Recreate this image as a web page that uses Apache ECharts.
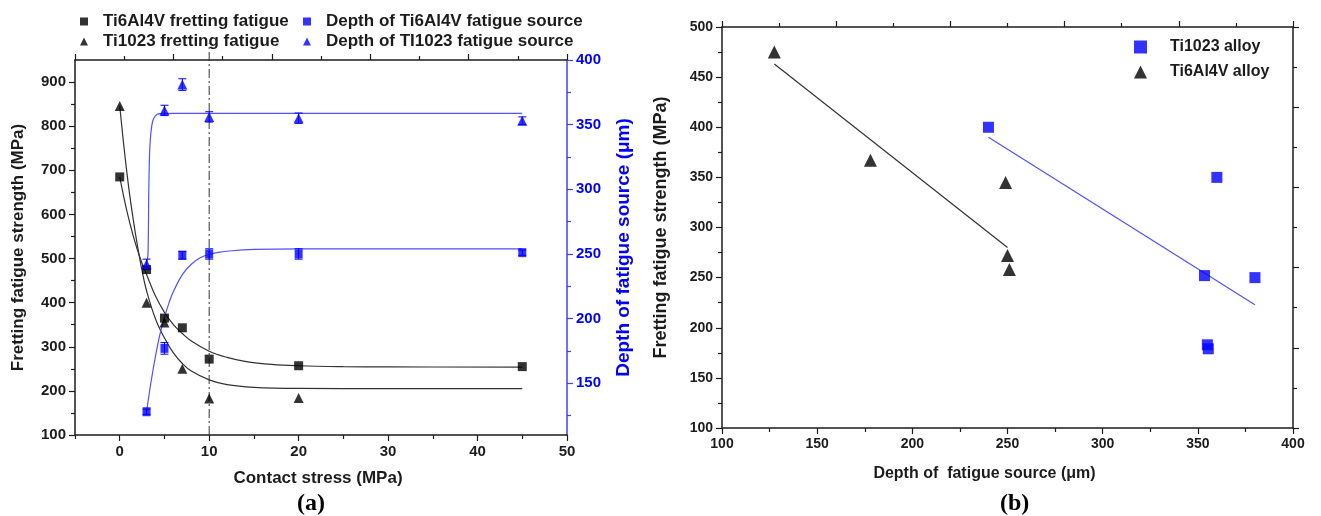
<!DOCTYPE html>
<html>
<head>
<meta charset="utf-8">
<script src="https://cdn.jsdelivr.net/npm/echarts@6/dist/echarts.min.js"></script>
<style>html,body{margin:0;background:#fff}#chart{width:1321px;height:516px}</style>
</head>
<body>
<div id="chart"></div>
<script>
// ---- (a) contact stress vs strength / depth of fatigue source
const stressTi64 = [0, 3, 5, 7, 10, 20, 45];
const strengthTi64 = [685, 475, 365, 343, 272, 257, 255];
const stressTi1023 = [0, 3, 5, 7, 10, 20];
const strengthTi1023 = [846, 400, 355, 250, 183, 184];
const stressDepth = [3, 5, 7, 10, 20, 45];
const depthTi64 = [128, 177, 249, 250, 250, 251];
const depthTi64Err = [2, 4.5, 3, 4, 4, 2];
const depthTi1023 = [242, 361, 381, 356, 355, 353];
const depthTi1023Err = [4, 4, 4.5, 4, 4, 3];

// fitted curves
const fitTi64X = [0, 0.75, 1.5, 2.25, 3, 4, 5, 6, 7, 8, 10, 12, 14, 17, 20, 25, 30, 45];
const fitTi64Y = [685, 612, 552, 503, 464, 415, 378, 350, 330, 313, 290, 276, 267, 260, 257, 255, 254.3, 254];
const fitTi1023X = [0, 0.5, 1, 1.5, 2, 2.5, 3, 4, 5, 6, 7, 8, 10, 12, 15, 20, 30, 45];
const fitTi1023Y = [846, 748, 662, 590, 527, 472, 427, 363, 320, 286, 262, 245, 225, 214, 208, 205.5, 205, 205];
const fitDepthTi64X = [3, 3.5, 4, 4.5, 5, 5.5, 6, 7, 8, 9, 10, 11, 12.5, 15, 20, 45];
const fitDepthTi64Y = [128, 151, 171, 188, 201, 212, 221, 234, 242, 247, 249.8, 251.3, 252.5, 253.5, 254, 254];
const fitDepthTi1023X = [3, 3.16, 3.25, 3.35, 3.5, 3.7, 4, 4.5, 6, 45];
const fitDepthTi1023Y = [242, 250, 300, 330, 345, 353, 357, 358.5, 358.7, 358.7];
const markStress = 10;

const xTicksA = [0, 10, 20, 30, 40, 50];
const xMinorA = [-5, 5, 15, 25, 35, 45];
const leftTicksA = [100, 200, 300, 400, 500, 600, 700, 800, 900];
const leftMinorA = [150, 250, 350, 450, 550, 650, 750, 850];
const rightTicksA = [150, 200, 250, 300, 350, 400];
const rightMinorA = [125, 175, 225, 275, 325, 375];

// ---- (b) depth of fatigue source vs strength
const depthTi1023B = [240, 360, 353.5, 380, 355, 355.5];
const strengthTi1023B = [400, 350, 252, 250, 183, 179];
const depthTi64B = [127.5, 178, 249, 250, 251];
const strengthTi64B = [475, 367, 345, 272, 258];
const fitTi64BX = [127.5, 250];
const fitTi64BY = [463, 280];
const fitTi1023BX = [240, 380];
const fitTi1023BY = [390, 223];

const FONT = 'Liberation Sans';
const BLUE = '#0000ff';
const BLUE_LINE = '#5050ff';
const DARK = '#1c1c1c';

const zip = (xs, ys) => xs.map((x, i) => [x, ys[i]]);

const lbl = (size, color) => ({
  fontFamily: FONT, fontWeight: 'bold', fontSize: size, color: color
});

function errorBars(xs, ys, errs, color) {
  return {
    type: 'custom', xAxisIndex: 0, yAxisIndex: 2, z: 3, silent: true,
    data: xs.map((x, i) => [x, ys[i] - errs[i], ys[i] + errs[i]]),
    renderItem: (params, api) => {
      const lo = api.coord([api.value(0), api.value(1)]);
      const hi = api.coord([api.value(0), api.value(2)]);
      const w = 4;
      const st = { stroke: color, lineWidth: 1 };
      return {
        type: 'group', children: [
          { type: 'line', shape: { x1: lo[0], y1: lo[1], x2: hi[0], y2: hi[1] }, style: st },
          { type: 'line', shape: { x1: lo[0] - w, y1: lo[1], x2: lo[0] + w, y2: lo[1] }, style: st },
          { type: 'line', shape: { x1: hi[0] - w, y1: hi[1], x2: hi[0] + w, y2: hi[1] }, style: st }
        ]
      };
    }
  };
}

function fitLine(xs, ys, xi, yi, color, smooth) {
  return {
    type: 'line', xAxisIndex: xi, yAxisIndex: yi, data: zip(xs, ys),
    showSymbol: false, smooth: smooth, silent: true,
    lineStyle: { color: color, width: 1.2 }, z: 1
  };
}

const axisLine = (color) => ({ show: true, onZero: false, lineStyle: { color: color, width: 1.5 } });
const hidden = { show: false };

const chart = echarts.init(document.getElementById('chart'));
chart.setOption({
  backgroundColor: '#fff',
  animation: false,
  title: [
    { text: '(a)', left: 292, top: 487, textStyle: { fontFamily: 'Liberation Serif', fontWeight: 'bold', fontSize: 24, color: '#000' } },
    { text: '(b)', left: 995, top: 487, textStyle: { fontFamily: 'Liberation Serif', fontWeight: 'bold', fontSize: 24, color: '#000' } }
  ],
  legend: [
    {
      orient: 'vertical', left: 80, top: 13, padding: 0, itemGap: 3,
      itemWidth: 8, itemHeight: 8, textStyle: { ...lbl(17, DARK), padding: [0, 0, 0, 10] },
      data: ['Ti6Al4V fretting fatigue', 'Ti1023 fretting fatigue']
    },
    {
      orient: 'vertical', left: 303, top: 13, padding: 0, itemGap: 3,
      itemWidth: 8, itemHeight: 8, textStyle: { ...lbl(17, DARK), padding: [0, 0, 0, 10] },
      data: ['Depth of Ti6Al4V fatigue source', 'Depth of TI1023 fatigue source']
    },
    {
      orient: 'vertical', left: 1134, top: 39, padding: 0, itemGap: 9,
      itemWidth: 13, itemHeight: 13, textStyle: { ...lbl(16, DARK), padding: [0, 0, 0, 18] },
      data: ['Ti1023 alloy', 'Ti6Al4V alloy']
    }
  ],
  grid: [
    { left: 75, top: 60, width: 492, height: 375 },
    { left: 722, top: 27, width: 571, height: 401 }
  ],
  xAxis: [
    { // 0: (a) bottom
      type: 'value', gridIndex: 0, position: 'bottom', min: -5, max: 50,
      name: 'Contact stress (MPa)', nameLocation: 'middle', nameGap: 35,
      nameTextStyle: { ...lbl(17, DARK), padding: [0, 6, 0, 0] },
      axisLine: axisLine(DARK),
      axisTick: { customValues: xTicksA, length: 6, lineStyle: { color: DARK, width: 1.2 } },
      axisLabel: { customValues: xTicksA, margin: 9, ...lbl(15, DARK) },
      splitLine: hidden
    },
    { // 1: (a) bottom minor ticks
      type: 'value', gridIndex: 0, position: 'bottom', min: -5, max: 50,
      axisLine: { show: false, onZero: false },
      axisTick: { customValues: xMinorA, length: 4, lineStyle: { color: DARK, width: 1.2 } },
      axisLabel: hidden, splitLine: hidden
    },
    { // 2: (a) top mirror
      type: 'value', gridIndex: 0, position: 'top', min: 0, max: 50, interval: 10,
      axisLine: axisLine(DARK),
      axisTick: { length: 6, lineStyle: { color: DARK, width: 1.2 } },
      minorTick: { show: true, splitNumber: 2, length: 4, lineStyle: { color: DARK, width: 1.2 } },
      axisLabel: hidden, splitLine: hidden
    },
    { // 3: (b) bottom
      type: 'value', gridIndex: 1, position: 'bottom', min: 100, max: 400, interval: 50,
      name: 'Depth of  fatigue source (μm)', nameLocation: 'middle', nameGap: 38,
      nameTextStyle: { ...lbl(16, DARK), padding: [0, 46, 0, 0] },
      axisLine: axisLine(DARK),
      axisTick: { length: 6, lineStyle: { color: DARK, width: 1.2 } },
      minorTick: { show: true, splitNumber: 2, length: 4, lineStyle: { color: DARK, width: 1.2 } },
      axisLabel: { margin: 9, ...lbl(14, DARK) },
      splitLine: hidden
    },
    { // 4: (b) top mirror
      type: 'value', gridIndex: 1, position: 'top', min: 0, max: 10, interval: 2,
      axisLine: axisLine(DARK),
      axisTick: { length: 6, lineStyle: { color: DARK, width: 1.2 } },
      minorTick: { show: true, splitNumber: 2, length: 4, lineStyle: { color: DARK, width: 1.2 } },
      axisLabel: hidden, splitLine: hidden
    }
  ],
  yAxis: [
    { // 0: (a) left
      type: 'value', gridIndex: 0, position: 'left', min: 100, max: 950,
      name: 'Fretting fatigue strength (MPa)', nameLocation: 'middle', nameGap: 48, nameTextStyle: lbl(17, DARK),
      axisLine: axisLine(DARK),
      axisTick: { customValues: leftTicksA, length: 6, lineStyle: { color: DARK, width: 1.2 } },
      axisLabel: { customValues: leftTicksA, margin: 9, ...lbl(15, DARK) },
      splitLine: hidden
    },
    { // 1: (a) left minor ticks
      type: 'value', gridIndex: 0, position: 'left', min: 100, max: 950,
      axisLine: { show: false, onZero: false },
      axisTick: { customValues: leftMinorA, length: 4, lineStyle: { color: DARK, width: 1.2 } },
      axisLabel: hidden, splitLine: hidden
    },
    { // 2: (a) right, depth
      type: 'value', gridIndex: 0, position: 'right', min: 110, max: 400,
      name: 'Depth of fatigue source (μm)', nameLocation: 'middle', nameGap: 47, nameTextStyle: lbl(19, BLUE),
      axisLine: axisLine('#4040ff'),
      axisTick: { customValues: rightTicksA, length: 6, lineStyle: { color: '#4040ff', width: 1.2 } },
      axisLabel: { customValues: rightTicksA, margin: 9, ...lbl(15, BLUE) },
      splitLine: hidden
    },
    { // 3: (a) right minor ticks
      type: 'value', gridIndex: 0, position: 'right', min: 110, max: 400,
      axisLine: { show: false, onZero: false },
      axisTick: { customValues: rightMinorA, length: 4, lineStyle: { color: '#4040ff', width: 1.2 } },
      axisLabel: hidden, splitLine: hidden
    },
    { // 4: (b) left
      type: 'value', gridIndex: 1, position: 'left', min: 100, max: 500, interval: 50,
      name: 'Fretting fatigue strength (MPa)', nameLocation: 'middle', nameGap: 52, nameTextStyle: lbl(18, DARK),
      axisLine: axisLine(DARK),
      axisTick: { length: 6, lineStyle: { color: DARK, width: 1.2 } },
      minorTick: { show: true, splitNumber: 2, length: 4, lineStyle: { color: DARK, width: 1.2 } },
      axisLabel: { margin: 9, ...lbl(14, DARK) },
      splitLine: hidden
    },
    { // 5: (b) right mirror
      type: 'value', gridIndex: 1, position: 'right', min: 0, max: 10, interval: 2,
      axisLine: axisLine(DARK),
      axisTick: { length: 6, lineStyle: { color: DARK, width: 1.2 } },
      minorTick: { show: true, splitNumber: 2, length: 4, lineStyle: { color: DARK, width: 1.2 } },
      axisLabel: hidden, splitLine: hidden
    }
  ],
  series: [
    // (a) fitted curves
    fitLine(fitTi64X, fitTi64Y, 0, 0, '#333', 0.4),
    fitLine(fitTi1023X, fitTi1023Y, 0, 0, '#333', 0.4),
    fitLine(fitDepthTi64X, fitDepthTi64Y, 0, 2, BLUE_LINE, 0.4),
    fitLine(fitDepthTi1023X, fitDepthTi1023Y, 0, 2, BLUE_LINE, 0.3),
    { // dash-dot marker line at 10 MPa
      type: 'line', xAxisIndex: 0, yAxisIndex: 0, clip: false, silent: true,
      data: [[markStress, 100], [markStress, 988]], showSymbol: false,
      lineStyle: { color: '#333', width: 1, type: [9, 3, 2, 3] }, z: 1
    },
    errorBars(stressDepth, depthTi64, depthTi64Err, BLUE),
    errorBars(stressDepth, depthTi1023, depthTi1023Err, BLUE),
    {
      name: 'Ti6Al4V fretting fatigue', type: 'scatter', xAxisIndex: 0, yAxisIndex: 0,
      data: zip(stressTi64, strengthTi64), symbol: 'rect', symbolSize: 9,
      itemStyle: { color: '#000' }, z: 4
    },
    {
      name: 'Ti1023 fretting fatigue', type: 'scatter', xAxisIndex: 0, yAxisIndex: 0,
      data: zip(stressTi1023, strengthTi1023), symbol: 'triangle', symbolSize: 10,
      itemStyle: { color: '#000' }, z: 4
    },
    {
      name: 'Depth of Ti6Al4V fatigue source', type: 'scatter', xAxisIndex: 0, yAxisIndex: 2,
      data: zip(stressDepth, depthTi64), symbol: 'rect', symbolSize: [8, 9],
      itemStyle: { color: BLUE }, z: 4
    },
    {
      name: 'Depth of TI1023 fatigue source', type: 'scatter', xAxisIndex: 0, yAxisIndex: 2,
      data: zip(stressDepth, depthTi1023), symbol: 'triangle', symbolSize: 10,
      itemStyle: { color: BLUE }, z: 4
    },
    // (b)
    fitLine(fitTi64BX, fitTi64BY, 3, 4, '#333', false),
    fitLine(fitTi1023BX, fitTi1023BY, 3, 4, BLUE_LINE, false),
    {
      name: 'Ti1023 alloy', type: 'scatter', xAxisIndex: 3, yAxisIndex: 4,
      data: zip(depthTi1023B, strengthTi1023B), symbol: 'rect', symbolSize: 11,
      itemStyle: { color: BLUE }, z: 4
    },
    {
      name: 'Ti6Al4V alloy', type: 'scatter', xAxisIndex: 3, yAxisIndex: 4,
      data: zip(depthTi64B, strengthTi64B), symbol: 'triangle', symbolSize: 13,
      itemStyle: { color: '#000' }, z: 4
    }
  ]
});
</script>
</body>
</html>
